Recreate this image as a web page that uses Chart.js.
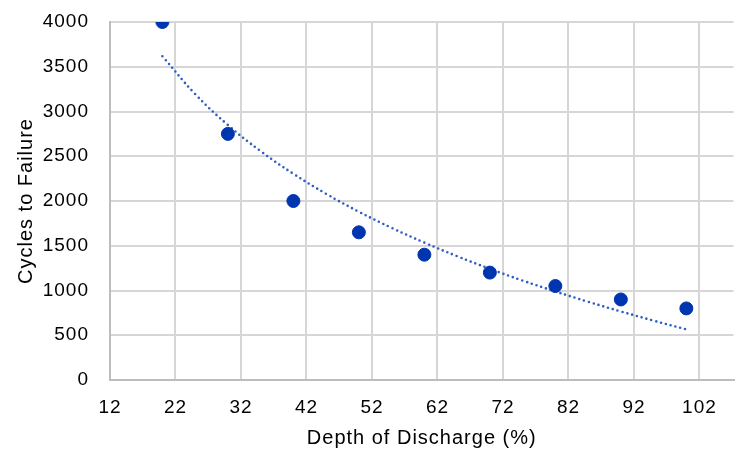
<!DOCTYPE html>
<html>
<head>
<meta charset="utf-8">
<script src="https://cdn.jsdelivr.net/npm/chart.js@4.4.1/dist/chart.umd.min.js"></script>
<style>
    html, body { margin: 0; padding: 0; background: #fff; }
    .chart-box { width: 741px; height: 452px; }
</style>
</head>
<body>
<div class="chart-box"><canvas id="cyclesChart"></canvas></div>
<script>
// measured points
const depthValues = [20, 30, 40, 50, 60, 70, 80, 90, 100];
const cyclesValues = [4000, 2750, 2000, 1650, 1400, 1200, 1050, 900, 800];

// dotted trendline
const trendDepth = [20, 25, 30, 35, 40, 45, 50, 55, 60, 65, 70, 75, 80, 85, 90, 95, 100];
const trendCycles = [3618, 3195, 2849, 2557, 2304, 2080, 1880, 1700, 1535, 1383, 1242, 1111, 989, 874, 766, 663, 566];

const xTickValues = [12, 22, 32, 42, 52, 62, 72, 82, 92, 102];
const yTickValues = [0, 500, 1000, 1500, 2000, 2500, 3000, 3500, 4000];

const spacing = {
    id: 'spacing',
    beforeLayout(chart) { chart.ctx.letterSpacing = '1px'; },
    beforeDraw(chart) { chart.ctx.letterSpacing = '1px'; }
};

const fontFamily = "'Liberation Sans', Arial, sans-serif";

const ctx = document.getElementById("cyclesChart").getContext("2d");

new Chart(ctx, {
    type: 'scatter',
    data: {
        datasets: [
            {
                label: 'Cycles',
                data: depthValues.map((x, i) => ({ x: x, y: cyclesValues[i] })),
                backgroundColor: '#0035b0',
                borderColor: '#0035b0',
                pointRadius: 6.5,
                order: 1
            },
            {
                label: 'Trend',
                data: trendDepth.map((x, i) => ({ x: x, y: trendCycles[i] })),
                showLine: true,
                borderColor: '#2f5fc4',
                borderWidth: 2.6,
                borderDash: [0, 5],
                borderCapStyle: 'round',
                tension: 0.4,
                pointRadius: 0,
                order: 2
            }
        ]
    },
    options: {
        responsive: true,
        maintainAspectRatio: false,
        animation: false,
        layout: { padding: { top: 22, right: 0, left: 14, bottom: 0 } },
        plugins: {
            legend: { display: false },
            tooltip: { enabled: false }
        },
        scales: {
            x: {
                type: 'linear',
                min: 12,
                max: 107.2,
                afterBuildTicks: scale => {
                    scale.ticks = xTickValues.map(v => ({ value: v }));
                },
                afterFit: scale => {
                    scale.height = 72;
                    scale.paddingLeft = 0;
                    scale.paddingRight = 0;
                },
                ticks: {
                    color: '#000',
                    font: { family: fontFamily, size: 19 },
                    padding: 16,
                    maxRotation: 0,
                    callback: v => String(v)
                },
                grid: { color: '#d6d6d6', lineWidth: 2, drawTicks: false },
                border: { color: '#bdbdbd', width: 2 },
                title: {
                    display: true,
                    text: 'Depth of Discharge (%)',
                    color: '#000',
                    font: { family: fontFamily, size: 20, lineHeight: 1.0 },
                    padding: { top: 4, bottom: 4 }
                }
            },
            y: {
                min: 0,
                max: 4000,
                afterBuildTicks: scale => {
                    scale.ticks = yTickValues.map(v => ({ value: v }));
                },
                afterFit: scale => {
                    scale.width = 96;
                    scale.paddingTop = 0;
                    scale.paddingBottom = 0;
                },
                ticks: {
                    color: '#000',
                    font: { family: fontFamily, size: 19 },
                    padding: 21,
                    callback: v => String(v)
                },
                grid: { color: '#d6d6d6', lineWidth: 2, drawTicks: false },
                border: { color: '#bdbdbd', width: 2 },
                title: {
                    display: true,
                    text: 'Cycles to Failure',
                    color: '#000',
                    font: { family: fontFamily, size: 20 },
                    padding: { top: 0, bottom: 5 }
                }
            }
        }
    },
    plugins: [spacing]
});
</script>
</body>
</html>
